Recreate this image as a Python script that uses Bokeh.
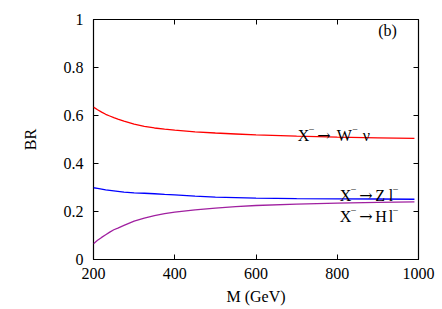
from bokeh.plotting import figure
from bokeh.models import LinearAxis, Range1d, FixedTicker, Label
from bokeh.embed import file_html
from bokeh.resources import INLINE

M = [200, 210, 220, 230, 240, 250, 260, 275, 300, 325, 350, 375, 400, 450, 500, 550, 600, 700, 800, 900, 990]
br_w = [0.635, 0.624, 0.614, 0.605, 0.598, 0.591, 0.585, 0.577, 0.564, 0.555, 0.548, 0.543, 0.539,
        0.532, 0.527, 0.523, 0.519, 0.514, 0.510, 0.507, 0.505]
br_z = [0.299, 0.296, 0.293, 0.290, 0.288, 0.286, 0.284, 0.281, 0.278, 0.276, 0.274, 0.271, 0.269,
        0.264, 0.260, 0.258, 0.256, 0.254, 0.253, 0.252, 0.251]
br_h = [0.066, 0.080, 0.092, 0.103, 0.114, 0.124, 0.131, 0.142, 0.160, 0.172, 0.183, 0.191, 0.197,
        0.207, 0.214, 0.220, 0.225, 0.231, 0.235, 0.238, 0.240]

x_ticks = [200, 400, 600, 800, 1000]
y_ticks = [0, 0.2, 0.4, 0.6, 0.8, 1]
y_tick_labels = {0: "0", 0.2: "0.2", 0.4: "0.4", 0.6: "0.6", 0.8: "0.8", 1: "1"}

# annotations: final-state particles, anchor M, anchor BR (baseline)
decays = [
    (("W", "\u03bd"), 703, 0.517),
    (("Z", "l"), 806, 0.267),
    (("H", "l"), 806, 0.179),
]
panel_label = ("(b)", 901, 0.954)

FONT = "Liberation Serif"
ARROW_FONT = "DejaVu Serif"

p = figure(output_backend="svg", toolbar_location=None,
           frame_width=325, frame_height=240,
           x_range=Range1d(200, 1000), y_range=Range1d(0, 1),
           min_border_left=93, min_border_right=24, min_border_top=19, min_border_bottom=50,
           x_axis_label="M (GeV)", y_axis_label="BR")
p.grid.visible = False
p.outline_line_color = "black"
p.outline_line_width = 1.2

for ax in p.xaxis:
    ax.ticker = FixedTicker(ticks=x_ticks)
for ax in p.yaxis:
    ax.ticker = FixedTicker(ticks=y_ticks)
    ax.major_label_overrides = y_tick_labels

for ax in list(p.xaxis) + list(p.yaxis):
    ax.major_tick_in = 5
    ax.major_tick_out = 0
    ax.minor_tick_in = 0
    ax.minor_tick_out = 0
    ax.axis_line_color = None
    ax.major_label_text_font = FONT
    ax.major_label_text_font_size = "16px"
    ax.major_label_text_color = "black"
    ax.axis_label_text_font = FONT
    ax.axis_label_text_font_size = "16px"
    ax.axis_label_text_font_style = "normal"
    ax.axis_label_text_color = "black"
p.xaxis.major_label_standoff = 8
p.yaxis.major_label_standoff = 10
p.xaxis.axis_label_standoff = 6
p.yaxis.axis_label_standoff = 22

right = LinearAxis(ticker=FixedTicker(ticks=y_ticks),
                   major_label_overrides={t: "" for t in y_ticks},
                   major_tick_in=5, major_tick_out=0, minor_tick_in=0, minor_tick_out=0,
                   axis_line_color=None)
top = LinearAxis(ticker=FixedTicker(ticks=x_ticks),
                 major_label_overrides={t: "" for t in x_ticks},
                 major_tick_in=5, major_tick_out=0, minor_tick_in=0, minor_tick_out=0,
                 axis_line_color=None)
p.add_layout(right, "right")
p.add_layout(top, "above")

p.line(M, br_w, line_color="#ff0000", line_width=1.3)
p.line(M, br_z, line_color="#0000ff", line_width=1.3)
p.line(M, br_h, line_color="#a020a0", line_width=1.3)


def piece(x, y, text, dx, dy=0, size="16px", font=FONT):
    p.add_layout(Label(x=x, y=y, x_offset=dx, y_offset=dy, text=text, text_font=font,
                       text_font_size=size, text_baseline="alphabetic", text_align="left",
                       text_color="black"))


for (boson, lepton), x, y in decays:
    piece(x, y, "X", 0)
    piece(x, y, "\u2212", 11, 6, "10px")
    piece(x, y, "\u2192", 19.5, 0, "16px", ARROW_FONT)
    if boson == "W":
        piece(x, y, "W", 39)
        piece(x, y, "\u2212", 54.5, 6, "10px")
        piece(x, y, lepton, 65)
    else:
        piece(x, y, boson, 35.5)
        piece(x, y, lepton, 49)
        piece(x, y, "\u2212", 53, 6, "10px")

p.add_layout(Label(x=panel_label[1], y=panel_label[2], text=panel_label[0], text_font=FONT,
                   text_font_size="16px", text_baseline="alphabetic", text_align="left",
                   text_color="black"))

open("out.html", "w").write(file_html(p, INLINE))
